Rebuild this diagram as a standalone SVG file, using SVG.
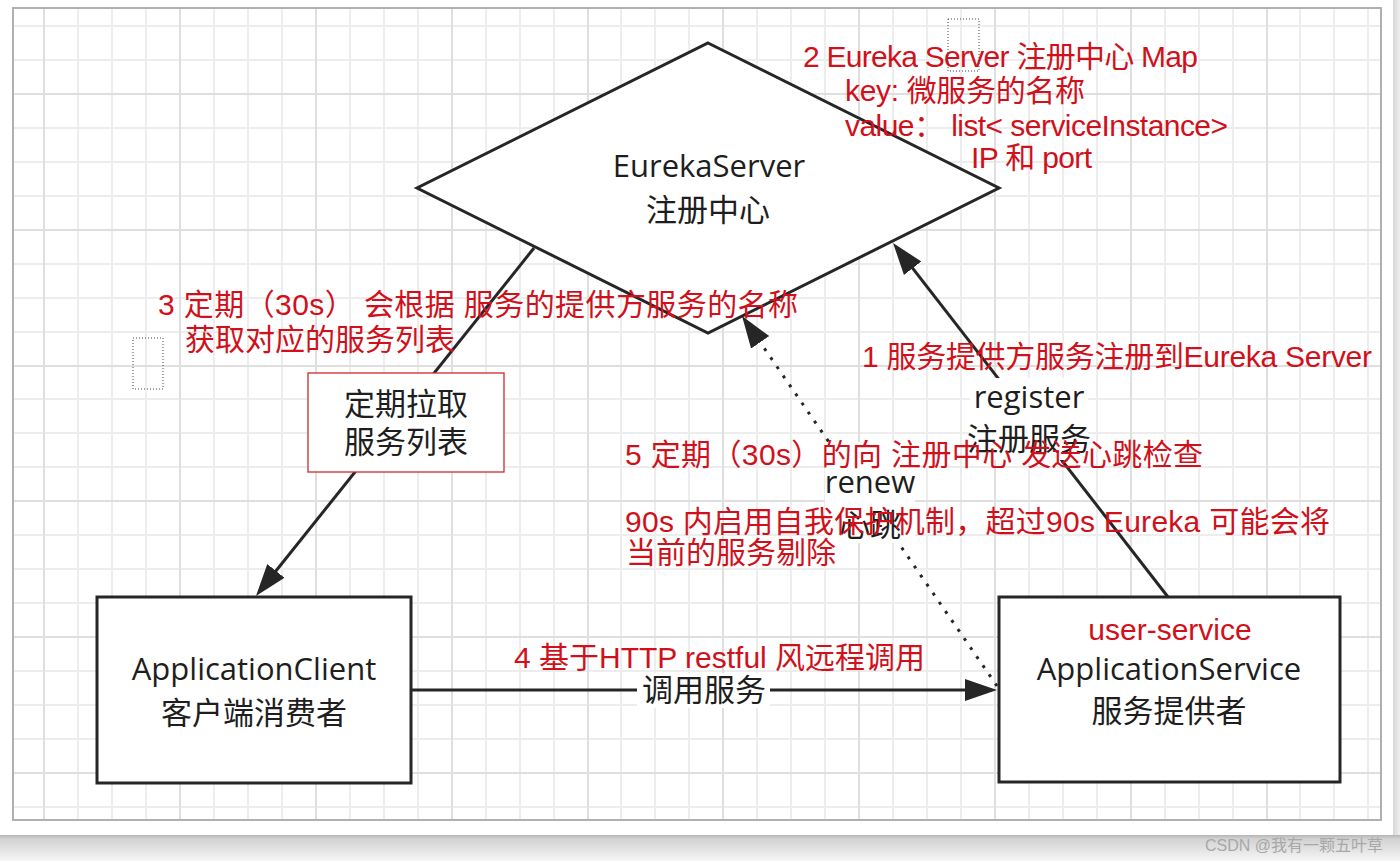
<svg xmlns="http://www.w3.org/2000/svg" width="1400" height="861" viewBox="0 0 1400 861">
<defs>
<style>
.lbl{font-family:"Open Sans","Noto Sans CJK SC",sans-serif;font-size:31px;fill:#1e1e1e;text-anchor:middle}
.red{font-family:"Liberation Sans","Noto Sans CJK SC",sans-serif;font-size:30px;fill:#d0111b}
.edge{stroke:#262626;stroke-width:3;fill:none}
.dot{stroke:#262626;stroke-width:3;fill:none;stroke-dasharray:3 8}
.node{fill:#fff;stroke:#262626;stroke-width:3;stroke-linejoin:miter}
.bg{fill:#fff}
.ph{fill:none;stroke:#444;stroke-width:1;stroke-dasharray:1 2}
</style>
<marker id="arr" markerUnits="userSpaceOnUse" markerWidth="32" markerHeight="24" viewBox="0 0 32 24" refX="26" refY="12" orient="auto"><path d="M0 1 L32 12 L0 23 Z" fill="#262626"/></marker>
<linearGradient id="shB" x1="0" y1="0" x2="0" y2="1"><stop offset="0" stop-color="#b5b5b5"/><stop offset="0.15" stop-color="#d2d2d2"/><stop offset="1" stop-color="#f6f6f6"/></linearGradient>
<linearGradient id="shR" x1="0" y1="0" x2="1" y2="0"><stop offset="0" stop-color="#d6d6d6"/><stop offset="1" stop-color="#f0f0f0"/></linearGradient>
</defs>
<rect x="0" y="0" width="1400" height="861" fill="#fff"/>
<rect x="1393" y="0" width="7" height="836" fill="url(#shR)"/>
<rect x="0" y="835" width="1400" height="26" fill="url(#shB)"/>
<g id="grid" stroke-width="2" fill="none">
<path stroke="#ededed" d="M78 9V819M112 9V819M146 9V819M214 9V819M248 9V819M282 9V819M350 9V819M384 9V819M418 9V819M486 9V819M520 9V819M554 9V819M621 9V819M655 9V819M689 9V819M757 9V819M791 9V819M825 9V819M893 9V819M927 9V819M961 9V819M1029 9V819M1063 9V819M1097 9V819M1165 9V819M1199 9V819M1233 9V819M1300 9V819M1334 9V819M1368 9V819
M14 26H1380M14 60H1380M14 128H1380M14 162H1380M14 196H1380M14 264H1380M14 298H1380M14 332H1380M14 399H1380M14 433H1380M14 467H1380M14 535H1380M14 569H1380M14 603H1380M14 671H1380M14 705H1380M14 739H1380M14 807H1380"/>
<path stroke="#dfdfdf" d="M44 9V819M180 9V819M316 9V819M452 9V819M588 9V819M723 9V819M859 9V819M995 9V819M1131 9V819M1267 9V819
M14 94H1380M14 230H1380M14 366H1380M14 501H1380M14 637H1380M14 773H1380"/>
</g>
<rect x="13" y="8" width="1368" height="812" fill="none" stroke="#b0b0b0" stroke-width="2"/>
<g id="server"><polygon class="node" points="708,43 999,188 708,333 417,188"/>
<text class="lbl" x="709" y="177">EurekaServer</text><text class="lbl" x="708" y="221">注册中心</text></g>
<g id="client"><rect class="node" x="97" y="597" width="314" height="186"/>
<text class="lbl" x="254" y="680">ApplicationClient</text><text class="lbl" x="254" y="724">客户端消费者</text></g>
<g id="service"><rect class="node" x="999" y="597" width="341" height="185"/>
<text class="red" x="1170" y="640" text-anchor="middle">user-service</text>
<text class="lbl" x="1169" y="680">ApplicationService</text><text class="lbl" x="1169" y="722">服务提供者</text></g>
<g id="connectors">
<path class="edge" d="M1168 597 L896.7 247.7" marker-end="url(#arr)"/>
<path class="edge" d="M534 248 L259.7 591.3" marker-end="url(#arr)"/>
<path class="edge" d="M411 690 L991 690" marker-end="url(#arr)"/>
<path class="dot" d="M997 686 L745.4 320.9" marker-end="url(#arr)"/>
</g>
<g id="label-pull"><rect x="308" y="373" width="196" height="99" fill="#fff" stroke="#cc2a2a" stroke-width="1.3"/>
<text class="lbl" x="406" y="415">定期拉取</text><text class="lbl" x="406" y="453">服务列表</text></g>
<g id="label-call"><rect class="bg" x="637" y="673" width="133" height="35"/><text class="lbl" x="704" y="701">调用服务</text></g>
<g id="label-register"><rect class="bg" x="970" y="378" width="118" height="82"/>
<text class="lbl" x="1029" y="408">register</text><text class="lbl" x="1029" y="450">注册服务</text></g>
<g id="label-renew"><rect class="bg" x="825" y="442" width="90" height="101"/>
<text class="lbl" x="870" y="493">renew</text><text class="lbl" x="870" y="536">心跳</text></g>
<g id="notes">
<text class="red" x="803" y="67" textLength="395" lengthAdjust="spacing">2 Eureka Server 注册中心 Map</text>
<text class="red" x="845" y="101" textLength="240" lengthAdjust="spacing">key: 微服务的名称</text>
<text class="red" x="845" y="136" textLength="383" lengthAdjust="spacing">value： list&lt; serviceInstance&gt;</text>
<text class="red" x="971" y="168" textLength="121" lengthAdjust="spacing">IP 和 port</text>
<text class="red" x="158" y="315" textLength="640" lengthAdjust="spacing">3 定期（30s） 会根据 服务的提供方服务的名称</text>
<text class="red" x="185" y="350">获取对应的服务列表</text>
<text class="red" x="862" y="367" textLength="510" lengthAdjust="spacing">1 服务提供方服务注册到Eureka Server</text>
<text class="red" x="625" y="465" textLength="578" lengthAdjust="spacing">5 定期（30s）的向 注册中心 发送心跳检查</text>
<text class="red" x="625" y="532" textLength="705" lengthAdjust="spacing">90s 内启用自我保护机制，超过90s Eureka 可能会将</text>
<text class="red" x="626" y="563">当前的服务剔除</text>
<text class="red" x="514" y="668" textLength="411" lengthAdjust="spacing">4 基于HTTP restful 风远程调用</text>
</g>
<rect class="ph" x="948" y="19" width="31" height="52"/>
<rect class="ph" x="133" y="338" width="30" height="51"/>
<text x="1205" y="851" font-family="'Liberation Sans','Noto Sans CJK SC',sans-serif" font-size="16" fill="#a8a8a8">CSDN @我有一颗五叶草</text>
</svg>
